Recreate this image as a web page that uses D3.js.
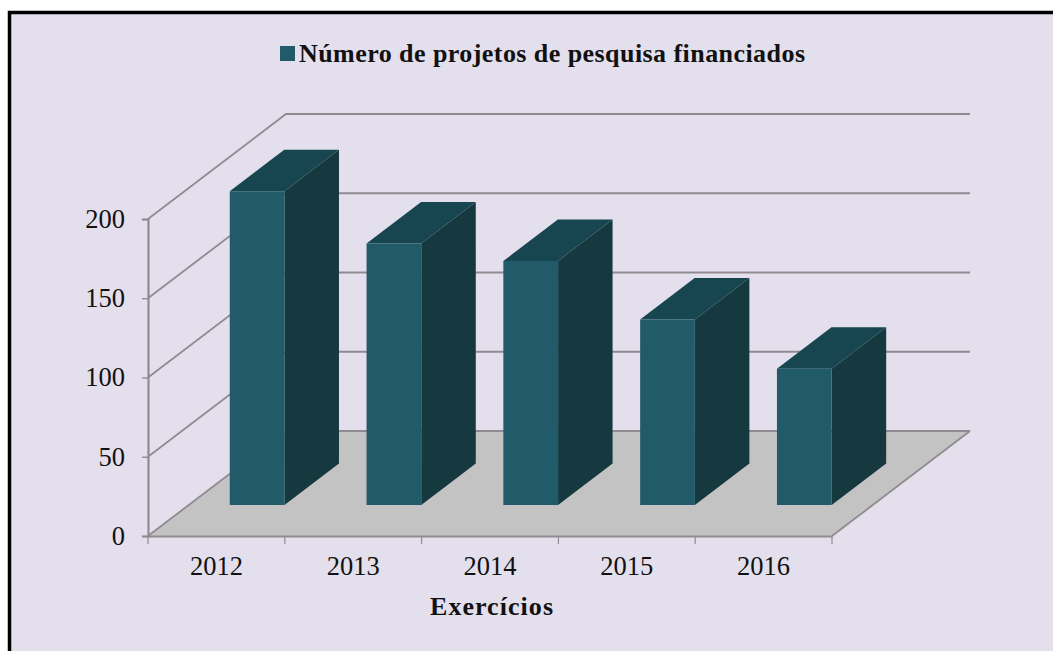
<!DOCTYPE html>
<html><head><meta charset="utf-8">
<script src="https://cdnjs.cloudflare.com/ajax/libs/d3/7.8.5/d3.min.js"></script>
<style>html,body{margin:0;padding:0;background:#fff}svg{display:block}text{font-family:"Liberation Serif",serif;fill:#111}</style>
</head><body><svg id="c" width="1053" height="651"></svg>
<script>
const years=["2012","2013","2014","2015","2016"];
const projetos=[198,165,154,117,86];
const yTicks=[0,50,100,150,200];
const legendLabel="Número de projetos de pesquisa financiados";
const xTitle="Exercícios";
const svg=d3.select("#c");
svg.append("rect").attr("x",9.5).attr("y",12.5).attr("width",1060).attr("height",660).attr("fill","#e4dfec").attr("stroke","#000").attr("stroke-width",3.5);
const x=d3.scaleBand().domain(years).range([148,832]).paddingInner(0.6).paddingOuter(0.3);
const band=d3.scaleBand().domain(years).range([148,832]);
const y=d3.scaleLinear().domain([0,200]).range([536,219]);
const dx=d3.scaleLinear().domain([0,1]).range([0,138]);
const dy=d3.scaleLinear().domain([0,1]).range([0,-105]);
const pts=a=>a.map(p=>p.join(",")).join(" ");
const P=(px,v,d)=>[px+dx(d),y(v)+dy(d)];
const x0=band.range()[0],x1=band.range()[1];
const gridColor="#8f8b91";
// floor
svg.append("polygon").attr("points",pts([P(x0,0,0),P(x1,0,0),P(x1,0,1),P(x0,0,1)])).attr("fill","#c4c3c3");
// gridlines on walls
const grid=svg.append("g").attr("fill","none").attr("stroke",gridColor).attr("stroke-width",1.8);
yTicks.forEach(t=>{
  grid.append("polyline").attr("points",pts([P(x0,t,0),P(x0,t,1),P(x1,t,1)]));
});
grid.append("polyline").attr("points",pts([P(x1,0,0),P(x1,0,1)]));
// axes
const gy=svg.append("g").attr("transform",`translate(${x0},0)`).call(d3.axisLeft(y).tickValues(yTicks).tickSize(6).tickPadding(17));
const gx=svg.append("g").attr("transform","translate(0,536)").call(d3.axisBottom(band).tickSize(0).tickPadding(20));
gx.selectAll(".boundary").data(band.domain().map(d=>band(d)).concat([x1])).enter().append("line").attr("class","boundary").attr("x1",d=>d).attr("x2",d=>d).attr("y1",0).attr("y2",8).attr("stroke",gridColor).attr("stroke-width",1.2);
[gx,gy].forEach(g=>{
  g.selectAll(".domain").attr("stroke",gridColor).attr("stroke-width",2.2);
  g.selectAll(".tick line").attr("stroke",gridColor).attr("stroke-width",1.4);
  g.selectAll("text").attr("font-size",26.5).attr("font-family","Liberation Serif").attr("fill","#111");
});
// bars
const d0=0.295,d1=0.69;
const bars=svg.append("g").selectAll("g").data(years.map((k,i)=>({k,v:projetos[i]}))).enter().append("g");
bars.append("polygon").attr("fill","#16383f").attr("points",d=>{const a=x(d.k)+x.bandwidth();return pts([P(a,0,d0),P(a,0,d1),P(a,d.v,d1),P(a,d.v,d0)]);});
bars.append("polygon").attr("fill","#174650").attr("points",d=>{const a=x(d.k),b=a+x.bandwidth();return pts([P(a,d.v,d0),P(b,d.v,d0),P(b,d.v,d1),P(a,d.v,d1)]);});
bars.append("polygon").attr("fill","#215a68").attr("points",d=>{const a=x(d.k),b=a+x.bandwidth();return pts([P(a,0,d0),P(b,0,d0),P(b,d.v,d0),P(a,d.v,d0)]);});
// legend
svg.append("rect").attr("x",280).attr("y",46).attr("width",15).attr("height",15).attr("fill","#215a68");
svg.append("text").attr("x",299).attr("y",62).attr("font-size",26).attr("font-weight","700").attr("textLength",506).text(legendLabel);
svg.append("text").attr("x",430).attr("y",615).attr("font-size",26).attr("font-weight","700").attr("textLength",123).text(xTitle);
</script></body></html>
